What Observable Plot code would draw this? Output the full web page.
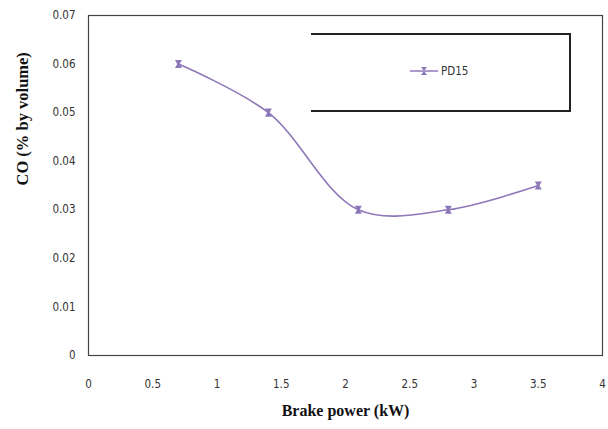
<!DOCTYPE html>
<html>
<head>
<meta charset="utf-8">
<script src="https://cdn.jsdelivr.net/npm/d3@7"></script>
<script src="https://cdn.jsdelivr.net/npm/@observablehq/plot@0.6"></script>
<style>
  html, body { margin: 0; padding: 0; background: #fff; }
  #wrap { position: relative; width: 608px; height: 429px; }
  #legend { position: absolute; left: 311px; top: 33px; width: 260px; height: 79px;
    border-top: 2px solid #222; border-right: 2px solid #222; border-bottom: 2px solid #222;
    box-sizing: border-box; font-family: "Liberation Sans Narrow", "DejaVu Sans Condensed", sans-serif; font-size: 11.5px; color: #333; }
  #legend .item { position: absolute; left: 99px; top: 29px; display: flex; align-items: center; }
  #legend svg { margin-right: 3px; }
</style>
</head>
<body>
<div id="wrap">
  <div id="chart"></div>
  <div id="legend"><div class="item"><svg width="28" height="10"><line x1="0" y1="5" x2="28" y2="5" stroke="#8e77b8" stroke-width="1.5"/><path d="M11,1 L17,1 L14,5 Z M11,9 L17,9 L14,5 Z" fill="#8e77b8"/></svg><span id="legendLabel"></span></div></div>
</div>
<script>
const seriesName = "PD15";
const brakePower = [0.7, 1.4, 2.1, 2.8, 3.5];
const coValues = [0.060, 0.050, 0.030, 0.030, 0.035];
const xTicks = [0, 0.5, 1, 1.5, 2, 2.5, 3, 3.5, 4];
const yTicks = [0, 0.01, 0.02, 0.03, 0.04, 0.05, 0.06, 0.07];
const xTitle = "Brake power (kW)";
const yTitle = "CO (% by volume)";

document.getElementById("legendLabel").textContent = seriesName;

const data = brakePower.map((x, i) => ({x, y: coValues[i]}));
const color = "#8e77b8";
const tickFont = "'Liberation Sans Narrow', 'DejaVu Sans Condensed', sans-serif";

const chart = Plot.plot({
  width: 608,
  height: 429,
  marginLeft: 88,
  marginRight: 6,
  marginTop: 15,
  marginBottom: 74,
  style: {fontFamily: tickFont, fontSize: "11.5px", color: "#333", background: "#fff"},
  x: {domain: [0, 4]},
  y: {domain: [0, 0.07]},
  marks: [
    Plot.frame({stroke: "#444", strokeWidth: 1.2}),
    Plot.axisX({ticks: xTicks, tickSize: 0, tickPadding: 24, label: null, tickFormat: d => String(d)}),
    Plot.axisY({ticks: yTicks, tickSize: 0, tickPadding: 13, label: null, tickFormat: d => String(+d.toFixed(2))}),
    Plot.line(data, {x: "x", y: "y", stroke: color, strokeWidth: 1.6, curve: "catmull-rom"}),
    Plot.dot(data, {x: "x", y: "y", symbol: "triangle", r: 2.6, fill: color, rotate: 180, dy: -2}),
    Plot.dot(data, {x: "x", y: "y", symbol: "triangle", r: 2.6, fill: color, dy: 2}),
    Plot.text([xTitle], {frameAnchor: "bottom", dy: 60, text: d => d, fontFamily: "'Liberation Serif', serif", fontWeight: "bold", fontSize: 16, fill: "#111"}),
    Plot.text([yTitle], {frameAnchor: "left", dx: -66, rotate: -90, text: d => d, fontFamily: "'Liberation Serif', serif", fontWeight: "bold", fontSize: 16.5, fill: "#111"})
  ]
});
document.getElementById("chart").appendChild(chart);
</script>
</body>
</html>
